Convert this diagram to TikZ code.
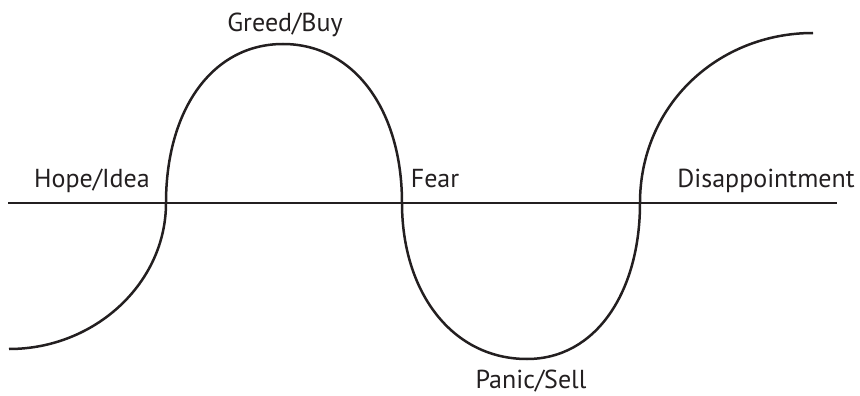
\documentclass[tikz,border=0pt]{standalone}
\usepackage{fontspec}
\setmainfont{PT Sans}
\usepackage{xcolor}
\usepackage{tikz}
\definecolor{ink}{HTML}{231F20}

\begin{document}
\begin{tikzpicture}[x=1pt, y=-1pt, font=\fontsize{26}{30}\selectfont,
    lbl/.style={inner sep=0pt, anchor=base, text=ink},
    wave/.style={draw=ink, line width=2.5pt},
    level/.style={draw=ink, line width=1.2pt}]
  \useasboundingbox (0,0) rectangle (860,396);
  % zero line
  \coordinate (lstart) at (8,203);
  \coordinate (lend) at (837,203);
  \draw[level] (lstart) -- (lend);
  % the cycle
  \draw[wave] (9,349) .. controls (95,349) and (166,283) .. (166,203)
    .. controls (166,110) and (212,44) .. (283,44)
    .. controls (354,44) and (402,110) .. (402,203)
    .. controls (402,292) and (452,359) .. (527,359)
    .. controls (596,359) and (640,292) .. (640,203)
    .. controls (640,105) and (718,33) .. (813,33);
  % phases
  \node[lbl] (hope) at (92,187) {Hope/Idea};
  \node[lbl] (greed) at (285,32) {Greed/Buy};
  \node[lbl] (fear) at (435,187) {Fear};
  \node[lbl] (disap) at (766,187) {Disappointment};
  \node[lbl] (panic) at (531,388) {Panic/Sell};
\end{tikzpicture}
\end{document}
